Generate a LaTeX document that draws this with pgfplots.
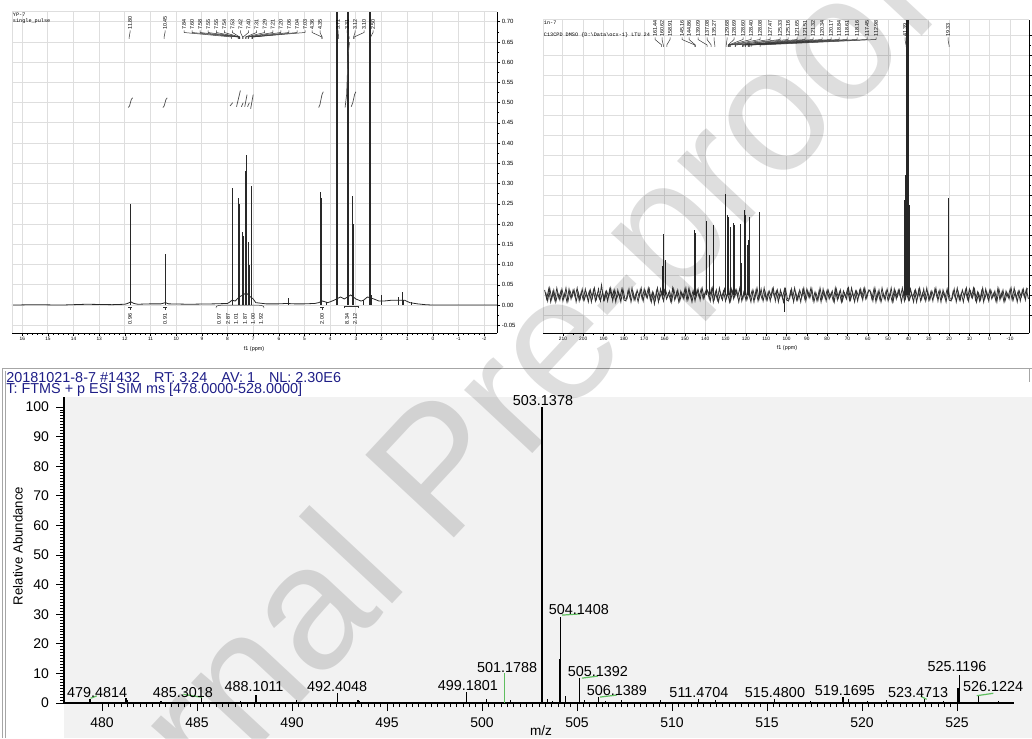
\documentclass[border=0pt]{standalone}
\usepackage{fontspec}
\setmainfont{Liberation Sans}
\newfontfamily\monofont{Liberation Mono}
\usepackage{pgfplots}
\pgfplotsset{compat=1.18}

\definecolor{msblue}{RGB}{30,30,135}
\definecolor{lblgreen}{RGB}{95,190,95}
\definecolor{msbg}{RGB}{242,242,242}
\definecolor{nmrgrid}{RGB}{222,222,222}
\definecolor{specline}{RGB}{40,40,40}

\newcommand\fxs{\fontsize{2.4}{2.8}\selectfont}
\newcommand\fys{\fontsize{3}{3.4}\selectfont}
\newcommand\fpk{\fontsize{2.7}{3}\selectfont}
\newcommand\fhd{\monofont\fontsize{2.6}{3}\selectfont}
\newcommand\fms{\fontsize{7.2}{8.4}\selectfont}
\newcommand\fmt{\fontsize{7}{8}\selectfont}

\pgfplotsset{
  nmr/.style={
    scale only axis, anchor=north west, x dir=reverse,
    axis x line*=bottom, axis y line*=right,
    tick align=outside, major tick length=1.6pt, minor tick length=0.9pt,
    tick style={black, line width=0.3pt},
    axis line style={black, line width=0.4pt},
    grid=major, major grid style={nmrgrid, line width=0.45pt},
    x tick label style={font=\fxs, inner sep=0.5pt},
    y tick label style={font=\fys, inner sep=0.6pt},
    /pgf/number format/assume math mode=true,
    clip mode=individual,
  },
}

\begin{document}
\begin{tikzpicture}
\path[use as bounding box] (0,0) rectangle (516pt,-369pt);

\begin{scope}[x=0.5pt,y=-0.5pt]
  \fill[msbg] (64,397) rectangle (1032,738);
  \draw[gray!70, line width=0.5pt] (2,738) -- (2,368) -- (1032,368);
  \draw[gray!70, line width=0.5pt] (5,738) -- (5,371);
  \draw[gray!70, line width=0.5pt] (1029,368) -- (1029,382);
\end{scope}

% ---------------- 1H NMR ----------------
\begin{axis}[nmr, at={(6pt,-6pt)}, width=242.5pt, height=160.5pt,
  xmin=-2.5, xmax=16.4, ymin=-0.069, ymax=0.724,
  xtick={-2,-1,...,16}, minor x tick num=4,
  ytick={-0.05,0,0.05,0.1,0.15,0.2,0.25,0.3,0.35,0.4,0.45,0.5,0.55,0.6,0.65,0.7},
  minor y tick num=1,
  yticklabel style={/pgf/number format/.cd, fixed, fixed zerofill, precision=2}]
\addplot[specline, line width=0.4pt] coordinates {
 (16.4,0) (15.5,0.001) (14.5,0.0) (13.5,0.002) (12.5,0.001) (12.0,0.002)
 (11.9,0.004) (11.77,0.008) (11.65,0.004) (11.5,0.002) (11.0,0.003) (10.6,0.003)
 (10.42,0.006) (10.3,0.003) (9.5,0.002) (8.5,0.003) (8.0,0.004) (7.9,0.008)
 (7.83,0.012) (7.7,0.01) (7.55,0.02) (7.4,0.025) (7.27,0.03) (7.1,0.02) (7.0,0.015)
 (6.9,0.006) (6.5,0.003) (6.0,0.003) (5.7,0.004) (5.4,0.003) (5.0,0.003) (4.6,0.004)
 (4.45,0.006) (4.3,0.01) (4.1,0.006) (4.0,0.008) (3.85,0.012) (3.6,0.02) (3.45,0.015)
 (3.2,0.025) (3.0,0.015) (2.8,0.01) (2.7,0.012) (2.55,0.02) (2.3,0.015) (2.1,0.01)
 (1.9,0.01) (1.6,0.012) (1.4,0.012) (1.1,0.012) (0.9,0.006) (0.6,0.003) (0.3,0.001)
 (0,0) (-1,0) (-2.5,0)};
\addplot[ycomb, specline, line width=0.5pt] coordinates {
 (11.77,0.25) (10.42,0.126) (7.82,0.29) (7.57,0.18) (7.56,0.265) (7.52,0.25)
 (7.42,0.18) (7.36,0.17) (7.29,0.33) (7.26,0.37) (7.20,0.155) (7.16,0.10) (7.05,0.295)
 (5.63,0.018) (4.36,0.28) (4.34,0.265) (4.16,0.008) (3.12,0.27) (3.09,0.2)
 (2.69,0.012) (2.39,0.025) (2.00,0.025) (1.34,0.02) (1.20,0.033) (1.15,0.012) (0.84,0.008)};
\addplot[ycomb, specline, line width=0.9pt] coordinates {(3.74,0.95) (3.31,0.95) (2.46,0.95)};
% integral curves
\addplot[black!70, line width=0.35pt] coordinates {(11.87,0.488) (11.82,0.492) (11.75,0.508) (11.70,0.512)};
\addplot[black!70, line width=0.35pt] coordinates {(10.52,0.488) (10.47,0.492) (10.40,0.508) (10.35,0.512)};
\addplot[black!70, line width=0.35pt] coordinates {(7.90,0.492) (7.80,0.50)};
\addplot[black!70, line width=0.35pt] coordinates {(7.65,0.49) (7.50,0.53)};
\addplot[black!70, line width=0.35pt] coordinates {(7.46,0.49) (7.39,0.50)};
\addplot[black!70, line width=0.35pt] coordinates {(7.33,0.49) (7.24,0.52)};
\addplot[black!70, line width=0.35pt] coordinates {(7.22,0.49) (7.15,0.50)};
\addplot[black!70, line width=0.35pt] coordinates {(7.10,0.485) (7.00,0.52)};
\addplot[black!70, line width=0.35pt] coordinates {(4.45,0.488) (4.40,0.495) (4.32,0.52) (4.27,0.527)};
\addplot[black!70, line width=0.35pt] coordinates {(3.42,0.488) (3.36,0.52) (3.30,0.62) (3.25,0.649)};
\addplot[black!70, line width=0.35pt] coordinates {(3.18,0.49) (3.12,0.50) (3.05,0.52) (3.00,0.527)};
\end{axis}

% ---------------- 13C NMR ----------------
\begin{axis}[nmr, at={(271.5pt,-10pt)}, width=243pt, height=156.5pt,
  xmin=-19.3, xmax=219.8, ymin=-38, ymax=275,
  xtick={-10,0,...,210}, minor x tick num=1,
  ytick={-20,0,...,260}, yticklabels={}, minor y tick num=1]
\addplot[black!80, line width=0.4pt] coordinates {
(219,5)(218,-4)(217,6)(216,-7)(215,3)(214,-5)(213,7)(212,-3)(211,4)(210,-6)(209,2)(208,-7)(207,6)(206,-4)(205,5)(204,-2)(203,7)(202,-6)(201,3)(200,-5)(199,6)(198,-3)(197,4)(196,-7)(195,5)(194,-6)(193,2)(192,-4)(191,10)(190,-5)(189,3)(188,-6)(187,6)(186,-2)(185,4)(184,-7)(183,5)(182,-3)(181,6)(180,-5)
(179,-6)(178,4)(177,-3)(176,7)(175,-5)(174,2)(173,-7)(172,5)(171,-4)(170,6)(169,-2)(168,7)(167,-5)(166,3)(165,-9)(164,4)(163,-7)(162,6)(161,-3)(160,5)(159,-4)(158,2)(157,-6)(156,7)(155,-5)(154,3)(153,-7)(152,4)(151,-2)(150,6)(149,-5)(148,7)(147,-3)(146,4)(145,-6)(144,5)(143,-2)(142,6)(141,-4)(140,3)
(139,5)(138,-4)(137,6)(136,-7)(135,3)(134,-5)(133,7)(132,-3)(131,4)(130,-6)(129,2)(128,-7)(127,6)(126,-4)(125,5)(124,-2)(123,7)(122,-6)(121,3)(120,-5)(119,6)(118,-3)(117,4)(116,-7)(115,5)(114,-6)(113,2)(112,-4)(111,7)(110,-5)(109,3)(108,-6)(107,6)(106,-2)(105,4)(104,-7)(103,5)(102,-3)(101,6)(100,-5)
(99,-6)(98,4)(97,-3)(96,7)(95,-5)(94,2)(93,-7)(92,5)(91,-4)(90,6)(89,-2)(88,7)(87,-5)(86,3)(85,-6)(84,4)(83,-7)(82,6)(81,-3)(80,5)(79,-4)(78,2)(77,-6)(76,7)(75,-5)(74,3)(73,-7)(72,4)(71,-2)(70,6)(69,-5)(68,7)(67,-3)(66,4)(65,-6)(64,5)(63,-2)(62,6)(61,-4)(60,3)
(59,5)(58,-4)(57,6)(56,-7)(55,3)(54,-5)(53,7)(52,-3)(51,4)(50,-6)(49,2)(48,-7)(47,6)(46,-4)(45,5)(44,-2)(43,7)(42,-6)(41,3)(40,-5)(39,6)(38,-3)(37,4)(36,-7)(35,5)(34,-6)(33,2)(32,-4)(31,7)(30,-5)(29,3)(28,-6)(27,6)(26,-2)(25,4)(24,-7)(23,5)(22,-3)(21,6)(20,-5)
(19,-6)(18,4)(17,-3)(16,7)(15,-5)(14,2)(13,-7)(12,5)(11,-4)(10,6)(9,-2)(8,7)(7,-5)(6,3)(5,-6)(4,4)(3,-7)(2,6)(1,-3)(0,5)(-1,-4)(-2,2)(-3,-6)(-4,7)(-5,-5)(-6,3)(-7,-7)(-8,4)(-9,-2)(-10,6)(-11,-5)(-12,7)(-13,-3)(-14,4)(-15,-6)(-16,5)(-17,-2)(-18,6)(-19,-4)};
\addplot[black!80, line width=0.4pt] coordinates {
(218.5,3)(217.5,-6)(216.5,7)(215.5,-4)(214.5,5)(213.5,-7)(212.5,2)(211.5,-5)(210.5,6)(209.5,-3)(208.5,7)(207.5,-6)(206.5,4)(205.5,-2)(204.5,5)(203.5,-7)(202.5,3)(201.5,-4)(200.5,6)(199.5,-5)(198.5,2)(197.5,-7)(196.5,5)(195.5,-3)(194.5,7)(193.5,-4)(192.5,6)(191.5,-6)(190.5,3)(189.5,-5)(188.5,4)(187.5,-2)(186.5,7)(185.5,-6)(184.5,5)(183.5,-3)(182.5,2)(181.5,-7)(180.5,6)(179.5,-4)
(178.5,-4)(177.5,6)(176.5,-7)(175.5,3)(174.5,-5)(173.5,5)(172.5,-2)(171.5,7)(170.5,-6)(169.5,4)(168.5,-3)(167.5,6)(166.5,-7)(165.5,2)(164.5,-5)(163.5,7)(162.5,-4)(161.5,3)(160.5,-6)(159.5,5)(158.5,-2)(157.5,4)(156.5,-7)(155.5,6)(154.5,-3)(153.5,5)(152.5,-6)(151.5,2)(150.5,-4)(149.5,7)(148.5,-5)(147.5,3)(146.5,-7)(145.5,4)(144.5,-2)(143.5,6)(142.5,-5)(141.5,7)(140.5,-3)(139.5,5)
(138.5,3)(137.5,-6)(136.5,7)(135.5,-4)(134.5,5)(133.5,-7)(132.5,2)(131.5,-5)(130.5,6)(129.5,-3)(128.5,7)(127.5,-6)(126.5,4)(125.5,-2)(124.5,5)(123.5,-7)(122.5,3)(121.5,-4)(120.5,6)(119.5,-5)(118.5,2)(117.5,-7)(116.5,5)(115.5,-3)(114.5,7)(113.5,-4)(112.5,6)(111.5,-6)(110.5,3)(109.5,-5)(108.5,4)(107.5,-2)(106.5,7)(105.5,-6)(104.5,5)(103.5,-3)(102.5,2)(101.5,-7)(100.5,6)(99.5,-4)
(98.5,-4)(97.5,6)(96.5,-7)(95.5,3)(94.5,-5)(93.5,5)(92.5,-2)(91.5,7)(90.5,-6)(89.5,4)(88.5,-3)(87.5,6)(86.5,-7)(85.5,2)(84.5,-5)(83.5,7)(82.5,-4)(81.5,3)(80.5,-6)(79.5,5)(78.5,-2)(77.5,4)(76.5,-7)(75.5,6)(74.5,-3)(73.5,5)(72.5,-6)(71.5,2)(70.5,-4)(69.5,7)(68.5,-5)(67.5,3)(66.5,-7)(65.5,4)(64.5,-2)(63.5,6)(62.5,-5)(61.5,7)(60.5,-3)(59.5,5)
(58.5,3)(57.5,-6)(56.5,7)(55.5,-4)(54.5,5)(53.5,-7)(52.5,2)(51.5,-5)(50.5,6)(49.5,-3)(48.5,7)(47.5,-6)(46.5,4)(45.5,-2)(44.5,5)(43.5,-7)(42.5,3)(41.5,-4)(40.5,6)(39.5,-5)(38.5,2)(37.5,-7)(36.5,5)(35.5,-3)(34.5,7)(33.5,-4)(32.5,6)(31.5,-6)(30.5,3)(29.5,-5)(28.5,4)(27.5,-2)(26.5,7)(25.5,-6)(24.5,5)(23.5,-3)(22.5,2)(21.5,-7)(20.5,6)(19.5,-4)
(18.5,-4)(17.5,6)(16.5,-7)(15.5,3)(14.5,-5)(13.5,5)(12.5,-2)(11.5,7)(10.5,-6)(9.5,4)(8.5,-3)(7.5,6)(6.5,-7)(5.5,2)(4.5,-5)(3.5,7)(2.5,-4)(1.5,3)(0.5,-6)(-0.5,5)(-1.5,-2)(-2.5,4)(-3.5,-7)(-4.5,6)(-5.5,-3)(-6.5,5)(-7.5,-6)(-8.5,2)(-9.5,-4)(-10.5,7)(-11.5,-5)(-12.5,3)(-13.5,-7)(-14.5,4)(-15.5,-2)(-16.5,6)(-17.5,-5)(-18.5,7)};
\addplot[ycomb, black!85, line width=0.5pt] coordinates {
 (161.13,29) (160.64,61) (159.3,35) (145.5,65) (145.0,62) (139.6,74) (137.7,40)
 (135.7,70) (130.1,101) (128.8,80) (128.3,78) (127.8,68) (125.85,72) (125.5,70)
 (122.4,71) (121.9,32) (120.9,85) (120.4,80) (119.0,50) (118.5,55) (118.0,78)
 (113.2,83) (100.75,-17) (42.0,95) (41.3,120) (40.8,400) (40.3,400) (39.8,400)
 (39.3,90) (20.2,97)};
\end{axis}

% ---------------- Mass spectrum ----------------
\begin{axis}[at={(32pt,-198.5pt)}, anchor=north west, scale only axis,
  width=475pt, height=153pt,
  xmin=478, xmax=528, ymin=0, ymax=103.4,
  axis x line*=bottom, axis y line*=left,
  xtick={480,485,...,525}, minor x tick num=14,
  ytick={0,10,...,100}, minor y tick num=9,
  tick align=outside, major tick length=4pt, minor tick length=2pt,
  tick style={black, line width=0.5pt},
  axis line style={black, line width=0.6pt},
  tick label style={font=\fmt},
  /pgf/number format/assume math mode=true,
  clip mode=individual]
\addplot[ycomb, black, line width=0.6pt] coordinates {
 (479.37,1.5) (481.26,1.6) (481.35,1.0) (482.1,0.5) (483.1,0.6) (484.2,0.4)
 (485.25,2.2) (486.0,0.5) (487.3,0.6) (488.11,2.8) (489.0,0.5) (489.6,0.4)
 (490.25,1.0) (491.1,0.5) (492.40,3.4) (493.47,1.1) (493.55,0.7) (494.4,0.4)
 (495.5,0.5) (496.5,0.3) (497.5,0.4) (498.6,0.4) (499.18,3.6) (500.25,1.2)
 (501.5,1.0) (502.6,0.4) (503.45,1.5) (503.7,0.6) (504.10,15) (504.1408,29)
 (504.38,2.5) (505.1392,8.3) (505.4,1.0) (506.1389,2.0) (506.5,0.6) (507.35,1.0)
 (508.3,0.4) (509.4,1.0) (510.4,0.4) (511.4,1.5) (512.3,0.9) (513.3,0.4) (514.1,0.4)
 (515.4,1.4) (516.5,0.5) (517.3,0.8) (518.3,0.5) (519.0,2.0) (519.3,1.5) (520.3,0.8)
 (521.3,0.9) (522.5,0.5) (523.3,1.4) (524.3,0.8) (525.05,5.0) (525.1196,9.5)
 (526.1224,2.4) (527.2,0.8)};
\addplot[ycomb, black, line width=0.9pt] coordinates {(503.1378,100)};
\addplot[ycomb, lblgreen, line width=0.7pt] coordinates {(501.1788,10.1)};
\draw[lblgreen, line width=0.6pt] (axis cs:479.4,1.6) -- (axis cs:479.72,2.4);
\draw[lblgreen, line width=0.6pt] (axis cs:484.28,2.94) -- (axis cs:485.25,1.93);
\draw[lblgreen, line width=0.6pt] (axis cs:504.21,29.7) -- (axis cs:505.16,30.1);
\draw[lblgreen, line width=0.6pt] (axis cs:505.26,8.4) -- (axis cs:506.1,9.1);
\draw[lblgreen, line width=0.6pt] (axis cs:506.21,2.0) -- (axis cs:507.1,2.7);
\draw[lblgreen, line width=0.6pt] (axis cs:523.09,2.26) -- (axis cs:523.4,1.25);
\draw[lblgreen, line width=0.6pt] (axis cs:526.04,2.47) -- (axis cs:526.91,3.28);
\begin{scope}[every node/.style={font=\fms, inner sep=0pt}]
\node at (axis cs:479.74,3.6) {479.4814};
\node at (axis cs:484.26,3.6) {485.3018};
\node at (axis cs:488.0,5.6) {488.1011};
\node at (axis cs:492.37,5.6) {492.4048};
\node at (axis cs:499.26,5.9) {499.1801};
\node at (axis cs:501.32,12.0) {501.1788};
\node at (axis cs:503.21,102.2) {503.1378};
\node at (axis cs:505.1,31.6) {504.1408};
\node at (axis cs:506.1,10.7) {505.1392};
\node at (axis cs:507.1,4.2) {506.1389};
\node at (axis cs:511.42,3.6) {511.4704};
\node at (axis cs:515.42,3.6) {515.4800};
\node at (axis cs:519.1,4.2) {519.1695};
\node at (axis cs:522.95,3.6) {523.4713};
\node at (axis cs:525.0,12.4) {525.1196};
\node at (axis cs:526.9,5.6) {526.1224};
\end{scope}
\end{axis}

% ---------------- annotations in pixel frame ----------------
\begin{scope}[x=0.5pt,y=-0.5pt]
  % grey frame parts of NMR panels
  \draw[nmrgrid, line width=0.5pt] (12,333) -- (12,12) -- (497,12);
  \draw[nmrgrid, line width=0.5pt] (543,333) -- (543,20) -- (1029,20);
  % headers
  \node[anchor=west, inner sep=0, font=\fhd] at (12.5,14.5) {YP-7};
  \node[anchor=west, inner sep=0, font=\fhd] at (12.5,21.5) {single\_pulse};
  \node[anchor=west, inner sep=0, font=\fhd] at (543.5,22.5) {1n-7};
  \node[anchor=west, inner sep=0, font=\fhd] at (543.5,35.5) {C13CPD DMSO \{D:\textbackslash Data\textbackslash ocx-1\} LTU 24};
  \node[font=\fontsize{2.7}{3}\selectfont] at (254,349) {f1 (ppm)};
  \node[font=\fontsize{2.7}{3}\selectfont] at (787,348) {f1 (ppm)};
  % 1H peak labels
  \foreach \lx/\px/\t in {130/129.2/11.80, 165/164.1/10.45,
     184/231.7/7.84, 192.1/238/7.60, 200.1/238.5/7.58, 208.2/239.3/7.55,
     216.3/239.3/7.55, 224.4/239.5/7.54, 232.4/239.8/7.53, 240.5/242.6/7.42,
     248.6/243.1/7.40, 256.6/245.5/7.31, 264.7/246/7.29, 272.8/248.1/7.21,
     280.8/248.3/7.20, 288.9/251.9/7.06, 297/252.5/7.04, 305/252.7/7.03,
     312/321.9/4.36, 320/322.1/4.35, 338/338.7/3.71, 347/349.1/3.31,
     355/353.6/3.12, 364/354.1/3.10, 373/370.6/2.50}{
    \draw[black!80, line width=0.25pt] (\lx,30.5) -- (\lx,32.5) -- (\px,37) -- (\px,39);
    \node[rotate=90, anchor=west, inner sep=0, font=\fpk] at (\lx,30) {\t};
  }
  % 1H integral values
  \foreach \ix/\t in {130/0.96, 165/0.91, 219/0.97, 228/2.87, 236/1.01, 245/1.87,
     253/1.00, 261/1.92, 322/2.00, 347/8.34, 355/2.12}{
    \node[rotate=90, inner sep=0, font=\fpk] at (\ix,319) {\t};
  }
  \foreach \ix in {130,165,322}{
    \draw[black!80, line width=0.25pt] (\ix-2,307) -- (\ix+2,307) (\ix,307) -- (\ix,310);
  }
  \draw[black!80, line width=0.25pt] (216,308) .. controls (216,305) .. (240,305) .. controls (264,305) .. (264,308);
  \draw[black!80, line width=0.25pt] (344,308) -- (344,306) -- (358,306) -- (358,308);
  % 13C peak labels
  \foreach \lx/\px/\t in {655/661.7/161.44, 662/663.3/160.62, 670/666.8/158.91,
     682/694.8/145.16, 689/695.4/144.86, 698/707.1/139.09, 707/711.2/137.08,
     714/714.8/135.27, 727/726.2/129.68, 734/728.2/128.69, 743/728.4/128.60,
     751/728.8/128.40, 760/729.5/128.08, 770/730.7/127.47, 780/735.1/125.33,
     788/735.4/125.16, 797/742.5/121.65, 805/742.8/121.51, 813/743.2/121.32,
     822/745.2/120.34, 831/745.5/120.17, 839/748.2/118.84, 847/748.7/118.61,
     857/749.6/118.16, 867/751.1/117.45, 876/760.1/112.98, 905/906/41.39, 948/949/19.33}{
    \draw[black!80, line width=0.25pt] (\lx,37.5) -- (\lx,39.5) -- (\px,45) -- (\px,47);
    \node[rotate=90, anchor=west, inner sep=0, font=\fpk] at (\lx,37) {\t};
  }
  % MS header and axis titles
  \node[anchor=west, inner sep=0, text=msblue, font=\fms] at (6,378)
     {20181021-8-7 \#1432\hspace{7pt}RT: 3.24\hspace{7pt}AV: 1\hspace{7pt}NL: 2.30E6};
  \node[anchor=west, inner sep=0, text=msblue, font=\fms] at (6,390)
     {T: FTMS + p ESI SIM ms [478.0000-528.0000]};
  \node[rotate=90, inner sep=0, font=\fontsize{6.6}{7.5}\selectfont] at (18,546) {Relative Abundance};
  \node[inner sep=0, font=\fontsize{6.8}{7.5}\selectfont] at (541,731) {m/z};
  % watermark
  \node[rotate=47, inner sep=0, text=black, opacity=0.13,
        font=\fontsize{88}{88}\selectfont] at (448,478) {Journal Pre-proof};
\end{scope}
\end{tikzpicture}
\end{document}
